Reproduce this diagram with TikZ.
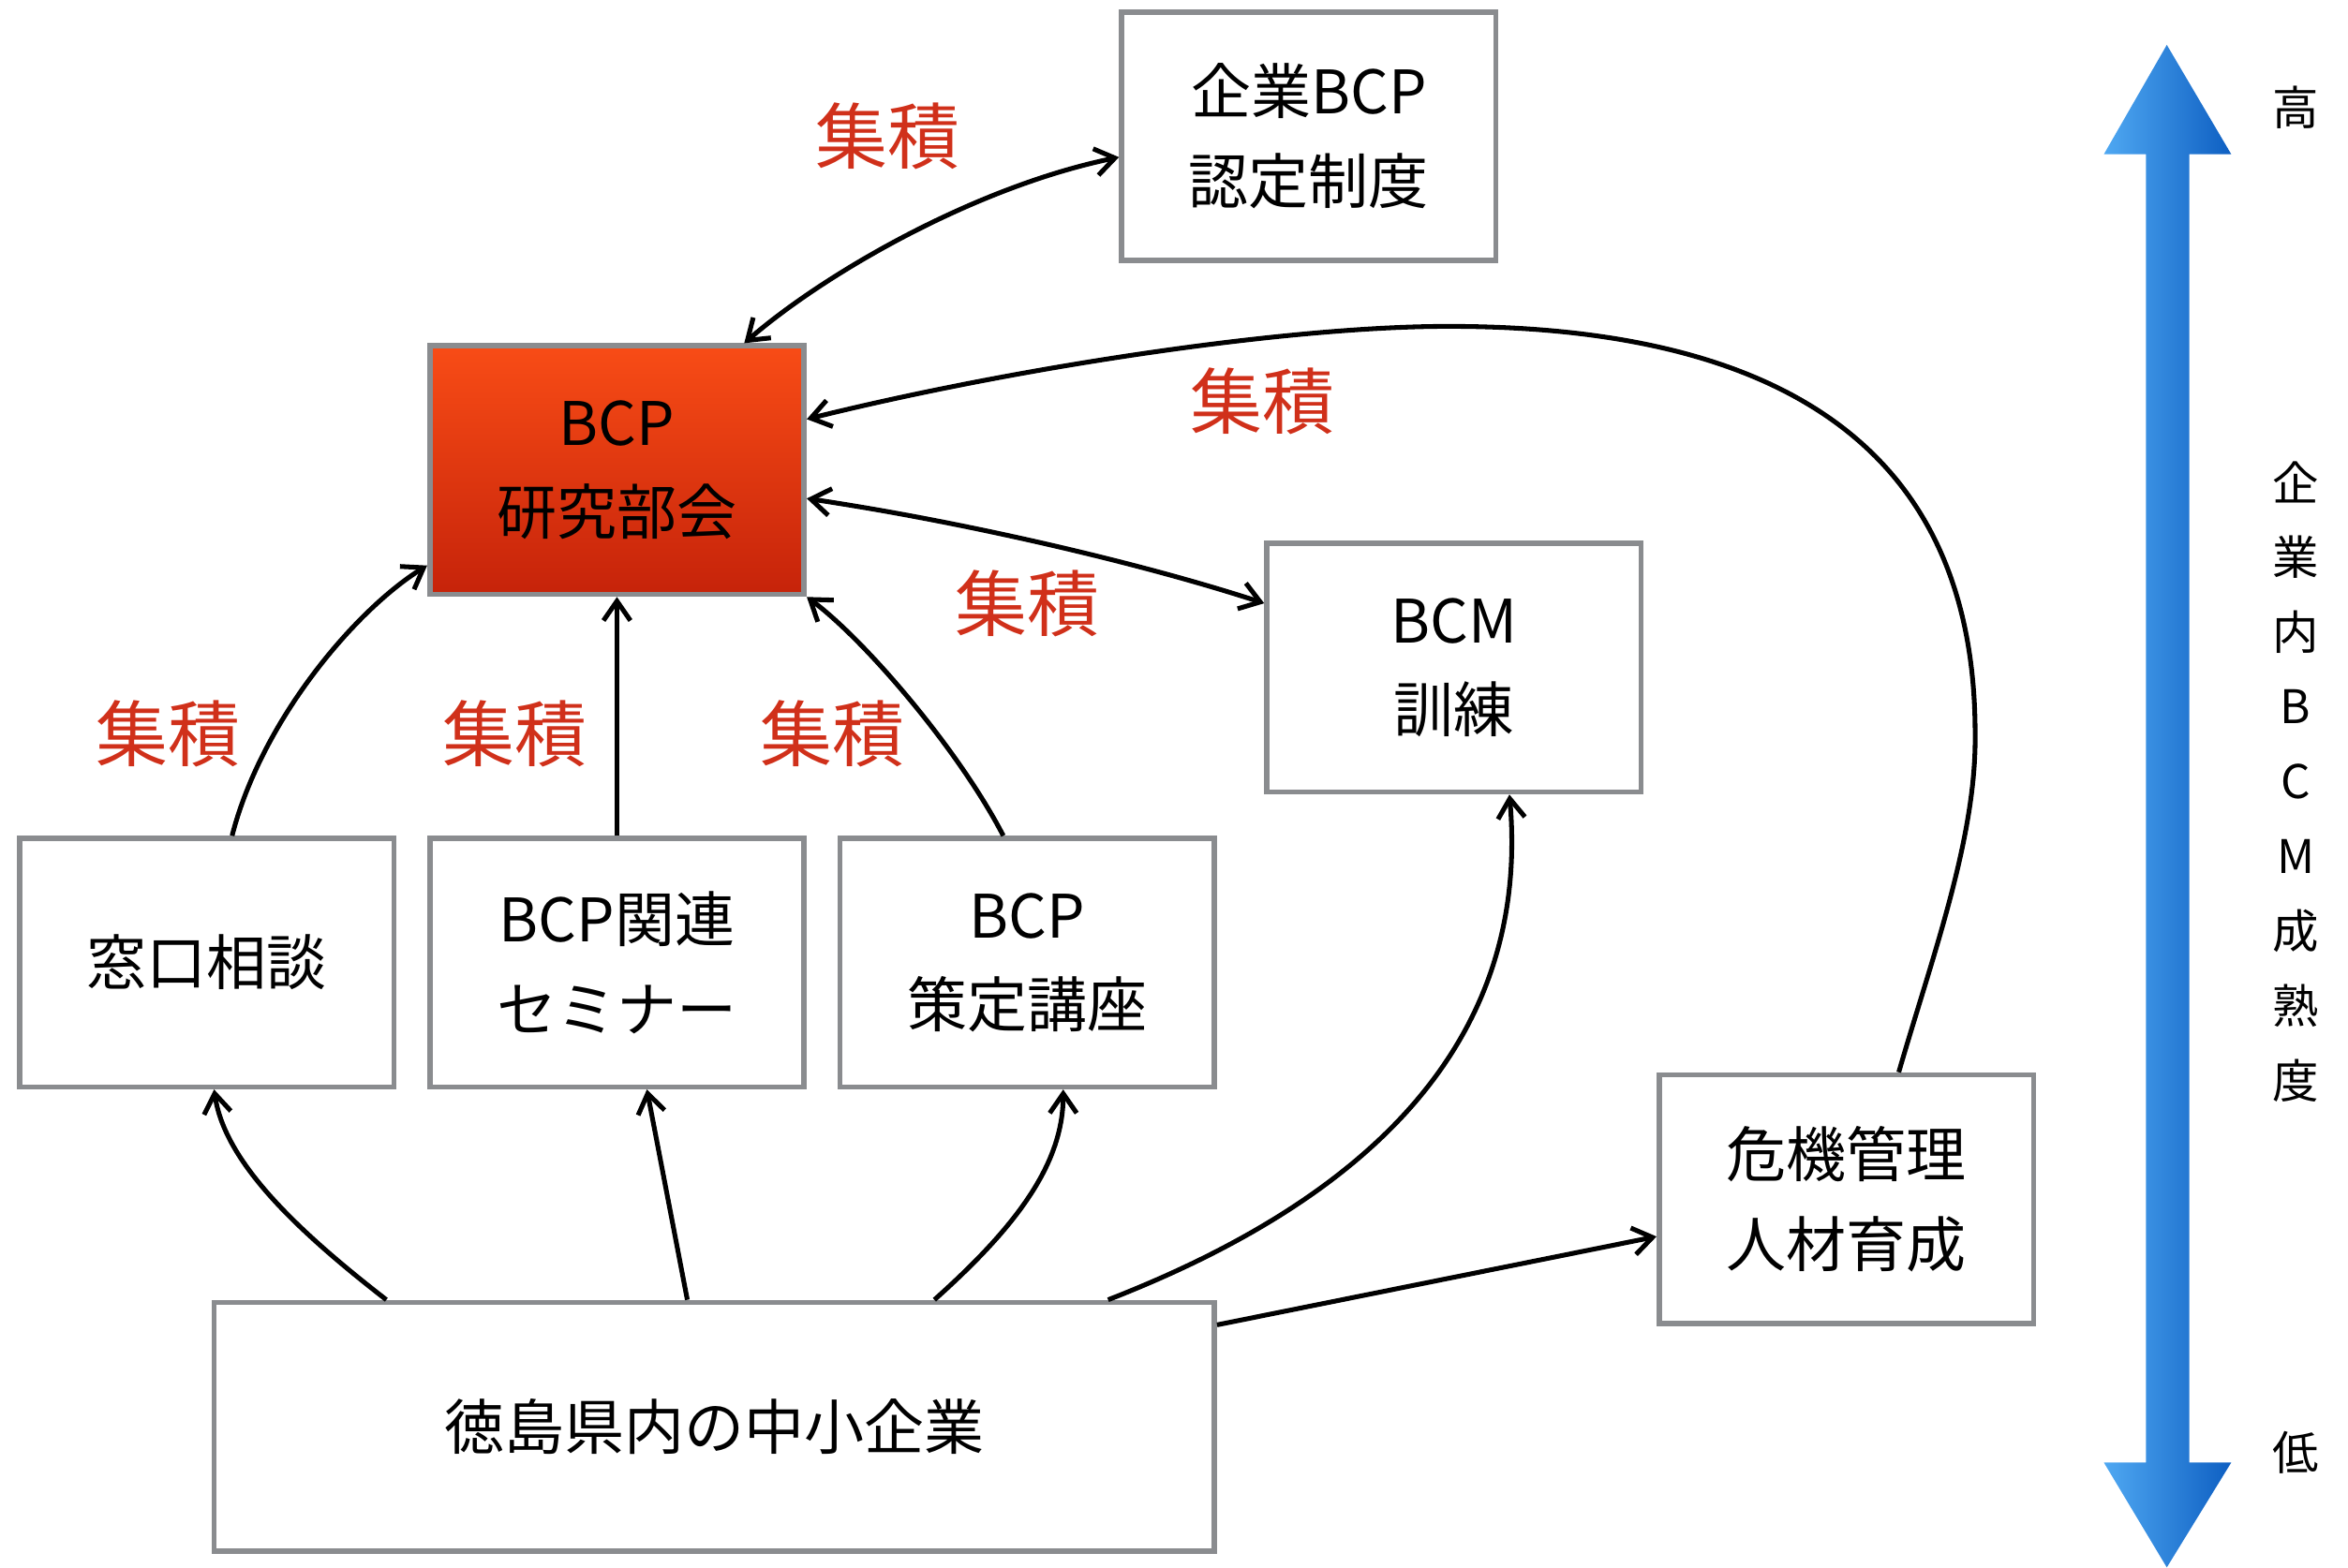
\documentclass[tikz,border=0pt]{standalone}
\usepackage{fontspec}
\setmainfont{Noto Sans CJK JP}
\usetikzlibrary{positioning,arrows.meta}

\definecolor{boxgray}{HTML}{8A8C8F}
\definecolor{stackred}{HTML}{D0301A}
\definecolor{hubtop}{HTML}{F84C16}
\definecolor{hubbottom}{HTML}{C6230A}
\definecolor{scaleleft}{HTML}{4FA8F2}
\definecolor{scaleright}{HTML}{0E5FC2}

\tikzset{
	box/.style={draw=boxgray, line width=1pt, fill=white, minimum width=25mm, minimum height=16.6mm,
		inner sep=0pt, align=center, font=\fontsize{11.4pt}{17pt}\selectfont},
	hub/.style={box, top color=hubtop, bottom color=hubbottom},
	stacklbl/.style={text=stackred, font=\fontsize{13.7pt}{16pt}\selectfont},
	scaletext/.style={font=\fontsize{8.8pt}{10pt}\selectfont},
	link/.style={line width=0.9pt},
	>={Straight Barb[length=1.3mm,width=1.8mm]},
}

\begin{document}
\begin{tikzpicture}[x=0.1mm, y=-0.1mm]
	\useasboundingbox (0,0) rectangle (1568,1047);

	\shade[left color=scaleleft, right color=scaleright]
		(1447,30) -- (1490,103) -- (1462,103) -- (1462,977) -- (1490,977) -- (1447,1047)
		-- (1405,977) -- (1433,977) -- (1433,103) -- (1405,103) -- cycle;

	\node[hub] (kenkyu) at (412,314) {BCP\\研究部会};
	\node[box, below=15.95mm of kenkyu] (seminar) {BCP関連\\セミナー};
	\node[box, left=2.05mm of seminar] (madoguchi) {窓口相談};
	\node[box, right=2.05mm of seminar] (sakutei) {BCP\\策定講座};
	\node[box, minimum width=66.8mm] (chusho) at (477,953) {徳島県内の中小企業};
	\node[box] (nintei) at (874,91) {企業BCP\\認定制度};
	\node[box] (bcm) at (971,446) {BCM\\訓練};
	\node[box] (kiki) at (1233,801) {危機管理\\人材育成};

	\node[stacklbl] (s1) at (593,91) {集積};
	\node[stacklbl] (s2) at (843,268) {集積};
	\node[stacklbl] (s3) at (686,403) {集積};
	\node[stacklbl] (s4) at (112,490) {集積};
	\node[stacklbl] (s5) at (344,490) {集積};
	\node[stacklbl] (s6) at (556,490) {集積};

	\node[scaletext] (high) at (1533,72) {高};
	\foreach \ch [count=\i from 0] in {企,業,内,B,C,M,成,熟,度}
		\node[scaletext] (axis\i) at (1533,322+50*\i) {\ch};
	\node[scaletext] (low) at (1533,970) {低};

	\draw[link, <->] ([xshift=8.5mm]kenkyu.north) .. controls +(53,-46) and +(-97,20) .. ([yshift=-1.4mm]nintei.west);
	\draw[link, ->] ([xshift=3.5mm]kiki.north) .. controls (1290,640) and (1320,560) .. (1319,490)
		.. controls (1319,300) and (1190,218) .. (967,218)
		.. controls (860,218) and (680,245) .. ([yshift=3.4mm]kenkyu.east);
	\draw[link, <->] ([yshift=-1.9mm]kenkyu.east) .. controls +(101,15) and +(-86,-28) .. ([yshift=4.3mm]bcm.west);
	\draw[link, ->] ([xshift=1.7mm]madoguchi.north) .. controls +(20,-78) and +(-47,29) .. ([yshift=2.1mm]kenkyu.south west);
	\draw[link, ->] (seminar) -- (kenkyu);
	\draw[link, ->] ([xshift=-1.6mm]sakutei.north) .. controls +(-30,-58) and +(38,28) .. (kenkyu.south east);
	\draw[link, ->] ([xshift=-21.9mm]chusho.north) .. controls +(-58,-45) and +(7,49) .. ([xshift=0.5mm]madoguchi.south);
	\draw[link, ->] ([xshift=-1.8mm]chusho.north) -- ([xshift=2mm]seminar.south);
	\draw[link, ->] ([xshift=14.7mm]chusho.north) .. controls +(56,-50) and +(0,49) .. ([xshift=2.4mm]sakutei.south);
	\draw[link, ->] ([xshift=26.3mm]chusho.north) .. controls +(180,-70) and +(14,161) .. ([xshift=3.7mm]bcm.south);
	\draw[link, ->] ([yshift=6.8mm]chusho.east) -- ([yshift=-2.5mm]kiki.west);
\end{tikzpicture}
\end{document}
